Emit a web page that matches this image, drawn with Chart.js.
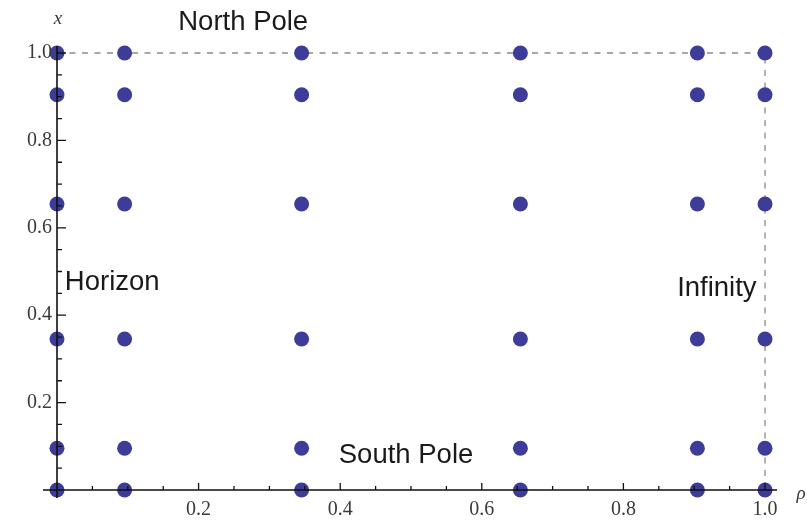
<!DOCTYPE html>
<html>
<head>
<meta charset="utf-8">
<script src="https://cdn.jsdelivr.net/npm/chart.js@4/dist/chart.umd.min.js"></script>
<style>
  body { margin: 0; background: #fff; }
  #wrap { width: 807px; height: 520px; }
</style>
</head>
<body>
<div id="wrap"><canvas id="poleChart" width="807" height="520"></canvas></div>
<script>
// grid values along rho and x (same for both)
var rhoValues = [0, 0.0955, 0.3455, 0.6545, 0.9045, 1];
var xValues = [0, 0.0955, 0.3455, 0.6545, 0.9045, 1];

var rhoTicks = [0.2, 0.4, 0.6, 0.8, 1.0];
var rhoTickLabels = ['0.2', '0.4', '0.6', '0.8', '1.0'];
var xTicks = [0.2, 0.4, 0.6, 0.8, 1.0];
var xTickLabels = ['0.2', '0.4', '0.6', '0.8', '1.0'];
var minorStep = 0.05;

var regionNames = ['North Pole', 'Horizon', 'South Pole', 'Infinity'];
var regionRho = [0.263, 0.078, 0.493, 0.932];
var regionX = [1.071, 0.474, 0.080, 0.462];

var points = [];
rhoValues.forEach(function(r) {
    xValues.forEach(function(x) {
        points.push({x: r, y: x});
    });
});

var serif = '"Liberation Serif", "DejaVu Serif", serif';
var sans = '"Liberation Sans", Arial, sans-serif';

var framePlugin = {
    id: 'frame',
    beforeDatasetsDraw: function(chart) {
        var c = chart.ctx, sx = chart.scales.x, sy = chart.scales.y;
        c.save();
        c.strokeStyle = '#8a8a8a';
        c.lineWidth = 1.3;
        c.setLineDash([6, 6.5]);
        c.beginPath();
        c.moveTo(sx.getPixelForValue(0), sy.getPixelForValue(1));
        c.lineTo(sx.getPixelForValue(1), sy.getPixelForValue(1));
        c.lineTo(sx.getPixelForValue(1), sy.getPixelForValue(0));
        c.stroke();
        c.restore();
    },
    afterDatasetsDraw: function(chart) {
        var c = chart.ctx, sx = chart.scales.x, sy = chart.scales.y;
        var x0 = sx.getPixelForValue(0), y0 = sy.getPixelForValue(0);
        c.save();
        c.strokeStyle = '#111';
        c.lineWidth = 1.6;
        c.beginPath();
        c.moveTo(x0 - 14, y0);
        c.lineTo(sx.getPixelForValue(1.017), y0);
        c.moveTo(x0, y0 + 8);
        c.lineTo(x0, sy.getPixelForValue(1.016));
        c.stroke();

        // ticks
        c.lineWidth = 1.3;
        c.beginPath();
        for (var i = 1; i <= 20; i++) {
            var v = i * minorStep;
            var major = i % 4 === 0;
            var px = sx.getPixelForValue(v);
            c.moveTo(px, y0);
            c.lineTo(px, y0 - (major ? 7 : 4));
            var py = sy.getPixelForValue(v);
            c.moveTo(x0, py);
            c.lineTo(x0 + (major ? 9 : 5), py);
        }
        c.stroke();

        // tick labels
        c.fillStyle = '#3a3a3a';
        c.font = '20px ' + serif;
        c.textAlign = 'center';
        c.textBaseline = 'middle';
        rhoTicks.forEach(function(t, k) {
            c.fillText(rhoTickLabels[k], sx.getPixelForValue(t), y0 + 20);
        });
        c.textAlign = 'right';
        xTicks.forEach(function(t, k) {
            c.fillText(xTickLabels[k], x0 - 5, sy.getPixelForValue(t));
        });

        // axis names
        c.font = 'italic 19px ' + serif;
        c.textAlign = 'center';
        c.fillText('x', x0 + 1, 19);
        c.fillText('\u03c1', 801, y0 + 4);

        // region labels
        c.fillStyle = '#1a1a1a';
        c.font = '27.5px ' + sans;
        regionNames.forEach(function(name, k) {
            c.fillText(name, sx.getPixelForValue(regionRho[k]), sy.getPixelForValue(regionX[k]));
        });
        c.restore();
    }
};

var ctx = document.getElementById('poleChart');
var poleChart = new Chart(ctx, {
    type: 'scatter',
    data: {
        datasets: [{
            data: points,
            backgroundColor: '#3d3d99',
            borderColor: '#3d3d99',
            pointRadius: 7.5,
            pointHoverRadius: 7.5,
            borderWidth: 0
        }]
    },
    options: {
        responsive: false,
        animation: false,
        events: [],
        layout: { padding: 0, autoPadding: false },
        plugins: {
            legend: { display: false },
            tooltip: { enabled: false }
        },
        scales: {
            x: { type: 'linear', display: false, min: -0.0805, max: 1.0593 },
            y: { type: 'linear', display: false, min: -0.06865, max: 1.12128 }
        }
    },
    plugins: [framePlugin]
});
</script>
</body>
</html>
